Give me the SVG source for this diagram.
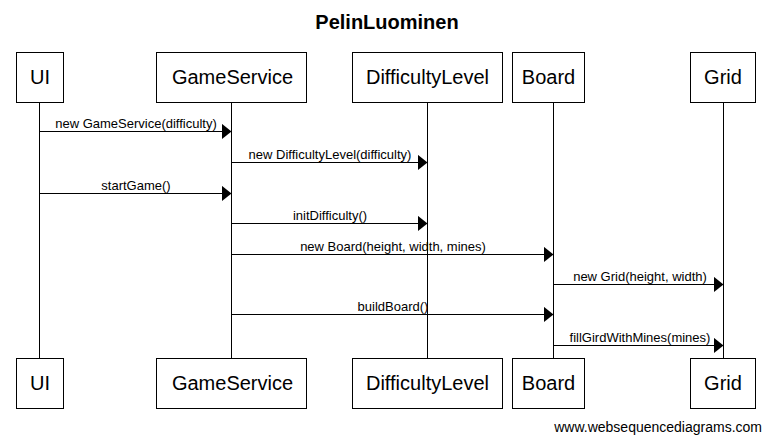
<svg xmlns="http://www.w3.org/2000/svg" width="771" height="442" viewBox="0 0 771 442">
<style>
.box{fill:#fff;stroke:#000;stroke-width:1}
.life{stroke:#000;stroke-width:1}
.msg{stroke:#000;stroke-width:1;fill:none}
.bl{font-family:"Liberation Sans",Arial,sans-serif;font-size:20px;text-anchor:middle;fill:#000}
.ml{font-family:"Liberation Sans",Arial,sans-serif;font-size:13px;text-anchor:middle;fill:#000}
.title{font-family:"Liberation Sans",Arial,sans-serif;font-size:20px;font-weight:bold;text-anchor:middle;fill:#000}
.foot{font-family:"Liberation Sans",Arial,sans-serif;font-size:14px;text-anchor:end;fill:#000}
</style>
<defs>
<marker id="ah" markerWidth="10" markerHeight="16" refX="10" refY="8" orient="auto" markerUnits="userSpaceOnUse">
<path d="M0,0 L10,8 L0,16 Z" fill="#000"/>
</marker>
</defs>
<rect width="771" height="442" fill="#fff"/>
<text class="title" x="387" y="29">PelinLuominen</text>
<g id="lifelines">
<line class="life" x1="39.5" y1="102" x2="39.5" y2="358"/>
<line class="life" x1="231.5" y1="102" x2="231.5" y2="358"/>
<line class="life" x1="427.5" y1="102" x2="427.5" y2="358"/>
<line class="life" x1="553.5" y1="102" x2="553.5" y2="358"/>
<line class="life" x1="723.5" y1="102" x2="723.5" y2="358"/>
</g>
<g id="UI">
<rect class="box" x="16.5" y="52.5" width="47" height="50"/>
<text class="bl" x="40" y="84">UI</text>
<rect class="box" x="16.5" y="358.5" width="47" height="50"/>
<text class="bl" x="40" y="390">UI</text>
</g>
<g id="GameService">
<rect class="box" x="156.5" y="52.5" width="150" height="50"/>
<text class="bl" x="232.5" y="84">GameService</text>
<rect class="box" x="156.5" y="358.5" width="150" height="50"/>
<text class="bl" x="232.5" y="390">GameService</text>
</g>
<g id="DifficultyLevel">
<rect class="box" x="352.5" y="52.5" width="150" height="50"/>
<text class="bl" x="427.5" y="84">DifficultyLevel</text>
<rect class="box" x="352.5" y="358.5" width="150" height="50"/>
<text class="bl" x="427.5" y="390">DifficultyLevel</text>
</g>
<g id="Board">
<rect class="box" x="512.5" y="52.5" width="72" height="50"/>
<text class="bl" x="548.5" y="84">Board</text>
<rect class="box" x="512.5" y="358.5" width="72" height="50"/>
<text class="bl" x="548.5" y="390">Board</text>
</g>
<g id="Grid">
<rect class="box" x="690.5" y="52.5" width="65" height="50"/>
<text class="bl" x="723" y="84">Grid</text>
<rect class="box" x="690.5" y="358.5" width="65" height="50"/>
<text class="bl" x="723" y="390">Grid</text>
</g>
<g id="connectors">
<line class="msg" x1="39.5" y1="131.5" x2="231.5" y2="131.5" marker-end="url(#ah)"/>
<text class="ml" x="136" y="128">new GameService(difficulty)</text>
<line class="msg" x1="231.5" y1="162.5" x2="427.5" y2="162.5" marker-end="url(#ah)"/>
<text class="ml" x="330" y="159">new DifficultyLevel(difficulty)</text>
<line class="msg" x1="39.5" y1="193.5" x2="231.5" y2="193.5" marker-end="url(#ah)"/>
<text class="ml" x="136" y="190">startGame()</text>
<line class="msg" x1="231.5" y1="223.5" x2="427.5" y2="223.5" marker-end="url(#ah)"/>
<text class="ml" x="330" y="220">initDifficulty()</text>
<line class="msg" x1="231.5" y1="254.5" x2="553.5" y2="254.5" marker-end="url(#ah)"/>
<text class="ml" x="393" y="251">new Board(height, width, mines)</text>
<line class="msg" x1="553.5" y1="284.5" x2="723.5" y2="284.5" marker-end="url(#ah)"/>
<text class="ml" x="640" y="281">new Grid(height, width)</text>
<line class="msg" x1="231.5" y1="314.5" x2="553.5" y2="314.5" marker-end="url(#ah)"/>
<text class="ml" x="393" y="311">buildBoard()</text>
<line class="msg" x1="553.5" y1="345.5" x2="723.5" y2="345.5" marker-end="url(#ah)"/>
<text class="ml" x="640" y="342">fillGirdWithMines(mines)</text>
</g>
<text class="foot" x="762" y="432">www.websequencediagrams.com</text>
</svg>
